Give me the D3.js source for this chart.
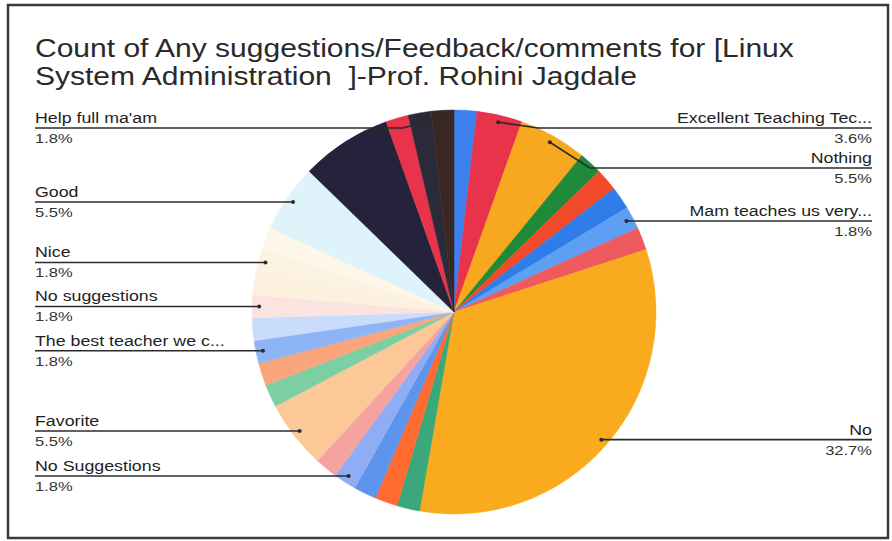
<!DOCTYPE html>
<html><head><meta charset="utf-8">
<script src="https://cdn.jsdelivr.net/npm/d3@7"></script>
<style>body{margin:0;background:#fff}svg{display:block}text{font-family:"Liberation Sans",Arial,sans-serif;white-space:pre}</style>
</head><body>
<svg id="c" width="892" height="541"></svg>
<script>
// Data (clockwise from 12 o'clock). Unnamed slices have no visible label.
const categories = [
  "", "Excellent Teaching Tec...", "Nothing", "", "", "", "Mam teaches us very...", "",
  "No",
  "", "", "", "No Suggestions", "",
  "Favorite",
  "", "", "The best teacher we c...", "", "No suggestions", "", "Nice", "",
  "Good",
  "", "", "", "Help full ma'am"
];
const counts = [
  1, 2, 3, 1, 1, 1, 1, 1,
  18,
  1, 1, 1, 1, 1,
  3,
  1, 1, 1, 1, 1, 1, 1, 1,
  3,
  4, 1, 1, 1
];
const colors = [
  "#3b82f0", "#e8334a", "#f7a81e", "#1f8a3a", "#f04a2a", "#2f7de8", "#5d9ff2", "#ef5a5f",
  "#f9ab1d",
  "#3aa87a", "#ff6a30", "#5e95ec", "#8fadf5", "#f4a3a0",
  "#fcc898",
  "#7ccfa2", "#fba57c", "#8cb4f6", "#c9dcfb", "#fbe3df", "#fdf0dc", "#fbf3e0", "#fef6e8",
  "#dff3fa",
  "#25223c", "#e8334a", "#2a2a38", "#3a2622"
];
const titleLines = ["Count of Any suggestions/Feedback/comments for [Linux", "System Administration  ]-Prof. Rohini Jagdale"];

const svg = d3.select("#c");
const STRETCH = 1.27; // reference text is horizontally widened
svg.append("rect").attr("x", 8).attr("y", 5).attr("width", 880).attr("height", 533)
  .attr("fill", "#fff").attr("stroke", "#3a3a3a").attr("stroke-width", 2.5);

function stretch(sel, k) {
  sel.each(function () {
    const w = this.getComputedTextLength();
    d3.select(this).attr("textLength", w * k).attr("lengthAdjust", "spacingAndGlyphs");
  });
}

svg.selectAll("text.title").data(titleLines).join("text").attr("class", "title")
  .attr("x", 35).attr("y", (d, i) => 57 + i * 28)
  .attr("font-size", 25).attr("fill", "#2a2a2a").text(d => d)
  .call(stretch, 1.2);

const cx = 454, cy = 312, R = 202;
const data = categories.map((c, i) => ({name: c, value: counts[i], color: colors[i]}));
const total = d3.sum(counts);
const pie = d3.pie().value(d => d.value).sort(null);
const arcs = pie(data);
const arc = d3.arc().innerRadius(0).outerRadius(R);
const g = svg.append("g").attr("transform", `translate(${cx},${cy})`);
g.selectAll("path").data(arcs).join("path").attr("d", arc)
  .attr("fill", d => d.data.color).attr("stroke", d => d.data.color).attr("stroke-width", 0.5);

// labels
const fmt = v => (Math.round(v / total * 1000) / 10).toFixed(1) + "%";
const labeled = arcs.filter(a => a.data.name !== "").map(a => {
  const m = (a.startAngle + a.endAngle) / 2;
  const rr = R * 0.965;
  return {a, m, ex: cx + rr * Math.sin(m), ey: cy - rr * Math.cos(m), right: m < Math.PI};
});
function layout(list) {
  list.sort((p, q) => p.ey - q.ey);
  let prev = -Infinity;
  list.forEach(l => { l.ly = Math.max(l.ey, 128, prev + 40); prev = l.ly; });
}
const rightL = labeled.filter(l => l.right), leftL = labeled.filter(l => !l.right);
layout(rightL); layout(leftL);
const lg = svg.append("g");
[...rightL, ...leftL].forEach(l => {
  const edge = l.right ? 872 : 35;
  const bx = l.right ? l.ex + 40 : l.ex - 40;
  const straight = Math.abs(l.ly - l.ey) < 3;
  const path = straight ? `M${edge},${l.ly}L${l.ex},${l.ey}` : `M${edge},${l.ly}L${bx},${l.ly}L${l.ex},${l.ey}`;
  lg.append("path").attr("d", path).attr("fill", "none").attr("stroke", "#2b2b2b").attr("stroke-width", 1.6);
  lg.append("circle").attr("cx", l.ex).attr("cy", l.ey).attr("r", 2).attr("fill", "#2b2b2b");
  const anchor = l.right ? "end" : "start";
  lg.append("text").attr("x", edge).attr("y", l.ly - 5).attr("text-anchor", anchor)
    .attr("font-size", 14).attr("fill", "#1e1e1e").text(l.a.data.name).call(stretch, STRETCH);
  lg.append("text").attr("x", edge).attr("y", l.ly + 15).attr("text-anchor", anchor)
    .attr("font-size", 13).attr("fill", "#333").text(fmt(l.a.data.value)).call(stretch, STRETCH);
});
</script>
</body></html>
